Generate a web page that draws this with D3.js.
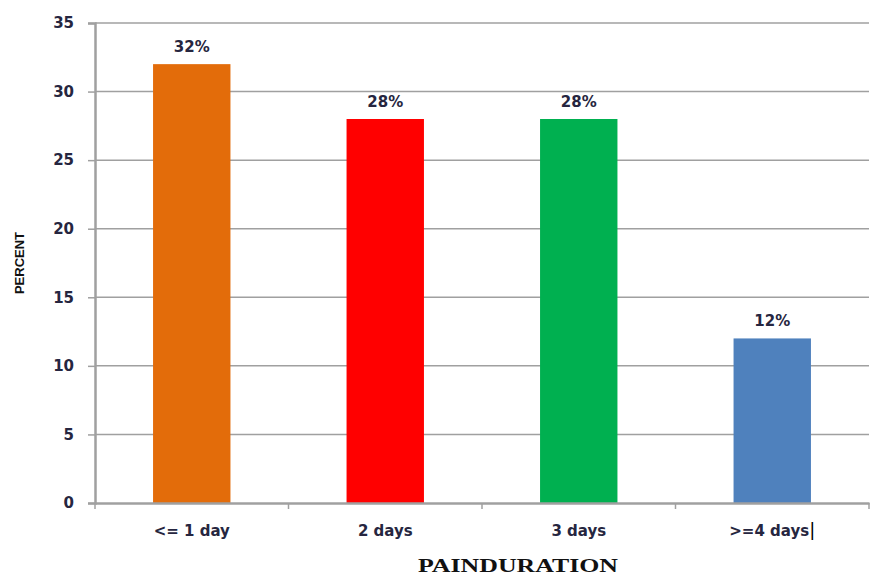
<!DOCTYPE html>
<html>
<head>
<meta charset="utf-8">
<script src="https://cdn.jsdelivr.net/npm/d3@7"></script>
<style>
  html, body { margin: 0; padding: 0; background: #fff; }
  svg { display: block; }
</style>
</head>
<body>
<svg id="chart" width="886" height="575"></svg>
<script>
const categories = ["<= 1 day", "2 days", "3 days", ">=4 days"];
const values = [32, 28, 28, 12];
const barLabels = ["32%", "28%", "28%", "12%"];
const colors = ["#E36C0A", "#FF0000", "#00B050", "#4F81BD"];
const yTicks = [0, 5, 10, 15, 20, 25, 30, 35];
const xTitle = "PAINDURATION";
const yTitle = "PERCENT";

(function () {
const svg = d3.select("#chart");
const mLeft = 95, mRight = 869, mTop = 23, mBottom = 503;

const x = d3.scaleBand().domain(categories).range([mLeft, mRight])
  .paddingInner(0.6).paddingOuter(0.3);
const y = d3.scaleLinear().domain([0, 35]).range([mBottom, mTop]);

const textColor = "#262640";
const gridColor = "#a0a0a0";

// gridlines
svg.append("g").selectAll("line").data(yTicks.filter(d => d > 0)).join("line")
  .attr("x1", mLeft).attr("x2", mRight)
  .attr("y1", d => y(d)).attr("y2", d => y(d))
  .attr("stroke", gridColor).attr("stroke-width", 1.5);

// bars
svg.append("g").selectAll("rect").data(values).join("rect")
  .attr("x", (d, i) => x(categories[i]))
  .attr("width", x.bandwidth())
  .attr("y", d => y(d))
  .attr("height", d => y(0) - y(d))
  .attr("fill", (d, i) => colors[i]);

// y axis
const yAxis = d3.axisLeft(y).tickValues(yTicks).tickSize(7).tickPadding(14);
const gy = svg.append("g").attr("transform", `translate(${mLeft},0)`).call(yAxis);
gy.select(".domain").attr("stroke", gridColor).attr("stroke-width", 2.5);
gy.selectAll(".tick line").attr("stroke", gridColor).attr("stroke-width", 1.5);
gy.selectAll(".tick text")
  .attr("fill", textColor)
  .style("font-family", "'DejaVu Sans', Verdana, sans-serif")
  .style("font-size", "15px").style("font-weight", "bold");

// x axis
const xAxis = d3.axisBottom(x).tickSize(0).tickPadding(22);
const gx = svg.append("g").attr("transform", `translate(0,${mBottom})`).call(xAxis);
gx.select(".domain").attr("stroke", gridColor).attr("stroke-width", 2.5);
gx.selectAll(".tick text")
  .attr("fill", textColor)
  .style("font-family", "'DejaVu Sans', Verdana, sans-serif")
  .style("font-size", "15px").style("font-weight", "bold");

// category boundary ticks
const edges = d3.range(categories.length + 1).map(i => mLeft + i * x.step());
svg.append("g").selectAll("line").data(edges).join("line")
  .attr("x1", d => d).attr("x2", d => d)
  .attr("y1", mBottom).attr("y2", mBottom + 6)
  .attr("stroke", gridColor).attr("stroke-width", 1.5);

// cursor artifact after last label
gx.selectAll(".tick text").filter(d => d === ">=4 days")
  .append("tspan").text("|").attr("fill", "#000").style("font-weight", "normal")
  .style("font-size", "18px");

// bar value labels
svg.append("g").selectAll("text").data(values).join("text")
  .attr("x", (d, i) => x(categories[i]) + x.bandwidth() / 2)
  .attr("y", d => y(d) - 12)
  .attr("text-anchor", "middle")
  .attr("fill", textColor)
  .style("font-family", "'DejaVu Sans', Verdana, sans-serif")
  .style("font-size", "15px").style("font-weight", "bold")
  .text((d, i) => barLabels[i]);

// axis titles
svg.append("text")
  .attr("x", 418).attr("y", 572)
  .attr("textLength", 200).attr("lengthAdjust", "spacingAndGlyphs")
  .attr("fill", "#111")
  .style("font-family", "'Liberation Serif', 'DejaVu Serif', serif")
  .style("font-size", "18px").style("font-weight", "bold")
  .text(xTitle);

svg.append("text")
  .attr("transform", "translate(24,263) rotate(-90)")
  .attr("text-anchor", "middle")
  .attr("fill", "#111")
  .style("font-family", "'Liberation Sans Narrow', 'Liberation Sans', Arial, sans-serif")
  .style("font-size", "13px").style("font-weight", "bold")
  .text(yTitle);
})();
</script>
</body>
</html>
